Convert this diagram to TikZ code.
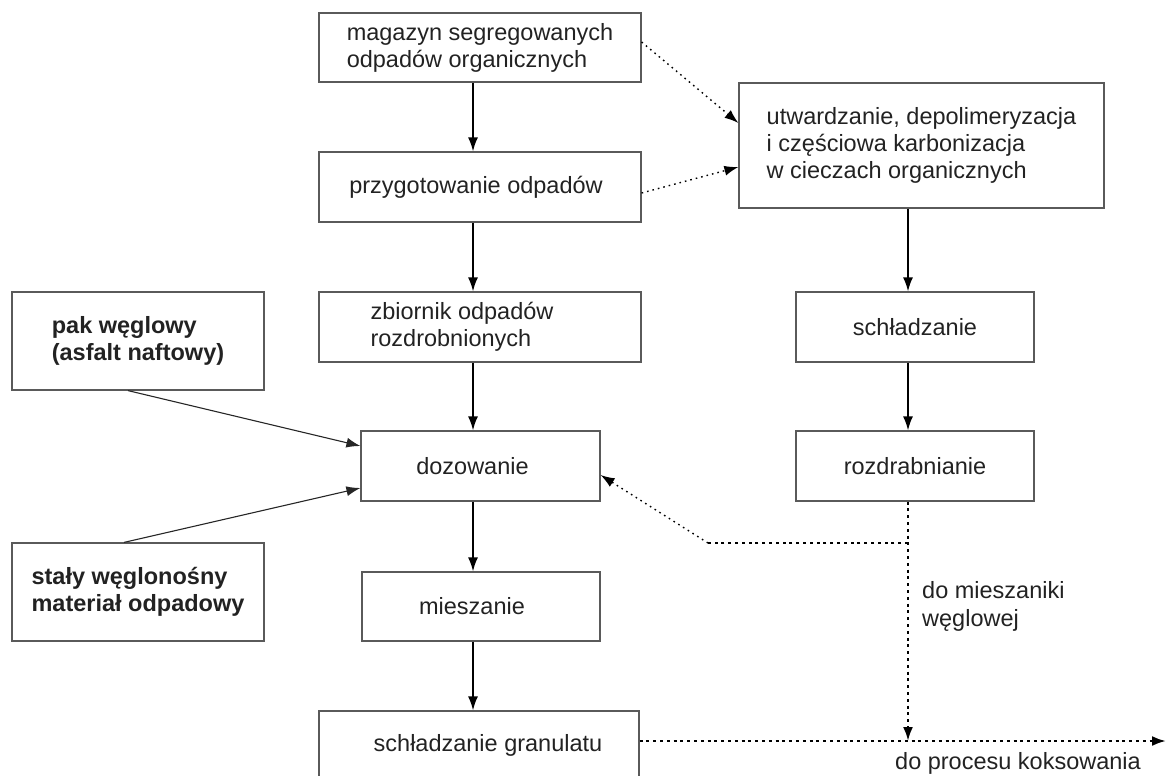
\documentclass[tikz,border=0pt]{standalone}
\usepackage{fontspec}
\setmainfont{Liberation Sans}
\usetikzlibrary{arrows.meta,calc}
\definecolor{boxline}{HTML}{5A5A5A}
\definecolor{txt}{HTML}{222222}
\tikzset{
  box/.style={draw=boxline, line width=1.2pt, inner sep=0pt, text=txt, align=left,
    font=\fontsize{23.5}{27}\selectfont},
  boldbox/.style={box, font=\fontsize{23.5}{27}\selectfont\bfseries},
  flow/.style={draw=black, line width=1.6pt, -{Latex[length=14pt,width=10pt]}},
  thinflow/.style={draw=black!85, line width=1.1pt, -{Latex[length=14pt,width=10pt]}},
  dotflow/.style={draw=black, line width=1.4pt, dash pattern=on 1.6pt off 4pt, -{Latex[length=14pt,width=10pt]}},
  thickdot/.style={draw=black, line width=2.4pt, dash pattern=on 3pt off 3.8pt},
  thickdotarrow/.style={thickdot, -{Latex[length=14pt,width=10pt]}},
  lbl/.style={text=txt, font=\fontsize{23.5}{28}\selectfont, align=left, inner sep=0pt}
}
\begin{document}
\begin{tikzpicture}[x=1pt,y=-1pt]
\useasboundingbox (0,0) rectangle (1167,776);
\clip (0,0) rectangle (1167,776);
% main column
\node[box, minimum width=322pt, minimum height=69pt] (A) at (480,47.5) {magazyn segregowanych\\odpadów organicznych};
\node[box, minimum width=322pt, minimum height=70pt] (B) at (480,187) {przygotowanie odpadów\hspace*{8pt}};
\node[box, minimum width=322pt, minimum height=70pt] (C) at (480,327) {zbiornik odpadów\hspace*{36pt}\\rozdrobnionych};
\node[box, minimum width=239pt, minimum height=70pt] (D) at (480.5,466) {dozowanie\hspace*{16pt}};
\node[box, minimum width=238pt, minimum height=69pt] (E) at (481,606.5) {mieszanie\hspace*{18pt}};
\node[box, minimum width=320pt, minimum height=69pt] (F) at (479,745.5) {\hspace*{18pt}schładzanie granulatu};
% right column
\node[box, minimum width=365pt, minimum height=125pt] (R1) at (921.5,145.5) {utwardzanie, depolimeryzacja\\i częściowa karbonizacja\\w cieczach organicznych};
\node[box, minimum width=238pt, minimum height=70pt] (R2) at (915,327) {schładzanie};
\node[box, minimum width=238pt, minimum height=70pt] (R3) at (915,466) {rozdrabnianie};
% left inputs
\node[boldbox, minimum width=252pt, minimum height=98pt] (L1) at (138,341) {pak węglowy\\(asfalt naftowy)};
\node[boldbox, minimum width=252pt, minimum height=98pt] (L2) at (138,592) {stały węglonośny\\materiał odpadowy};
% labels
\node[lbl, anchor=west] (lm) at (922,606) {do mieszaniki\\węglowej};
\node[lbl, anchor=west] (lk) at (895,763) {do procesu koksowania};
% helper coordinates
\coordinate (mx) at (473,0);
\coordinate (rx) at (908,0);
\coordinate (split) at (908,543);
\coordinate (bend) at (708,543);
\coordinate (join) at (908,741);
\coordinate (outend) at (1166,741);
% main flow arrows
\draw[flow] (A.south -| mx) -- (B.north -| mx);
\draw[flow] (B.south -| mx) -- (C.north -| mx);
\draw[flow] (C.south -| mx) -- (D.north -| mx);
\draw[flow] (D.south -| mx) -- (E.north -| mx);
\draw[flow] (E.south -| mx) -- (F.north -| mx);
\draw[flow] (R1.south -| rx) -- (R2.north -| rx);
\draw[flow] (R2.south -| rx) -- (R3.north -| rx);
% inputs to dozowanie
\draw[thinflow] ([xshift=-10pt]L1.south) -- ([yshift=20pt]D.west);
\draw[thinflow] ([xshift=-14pt]L2.north) -- ([yshift=-22pt]D.west);
% dotted upper
\draw[dotflow] ([yshift=5.5pt]A.east) -- ([yshift=22.5pt]R1.west);
\draw[dotflow] ([yshift=-6pt]B.east) -- ([yshift=-21.5pt]R1.west);
% dotted lower
\draw[thickdotarrow] (R3.south -| rx) -- (join);
\draw[thickdot] (split) -- (bend);
\draw[dotflow] (bend) -- ([yshift=-9pt]D.east);
\draw[thickdotarrow] (F.east |- join) -- (outend);
\end{tikzpicture}
\end{document}
